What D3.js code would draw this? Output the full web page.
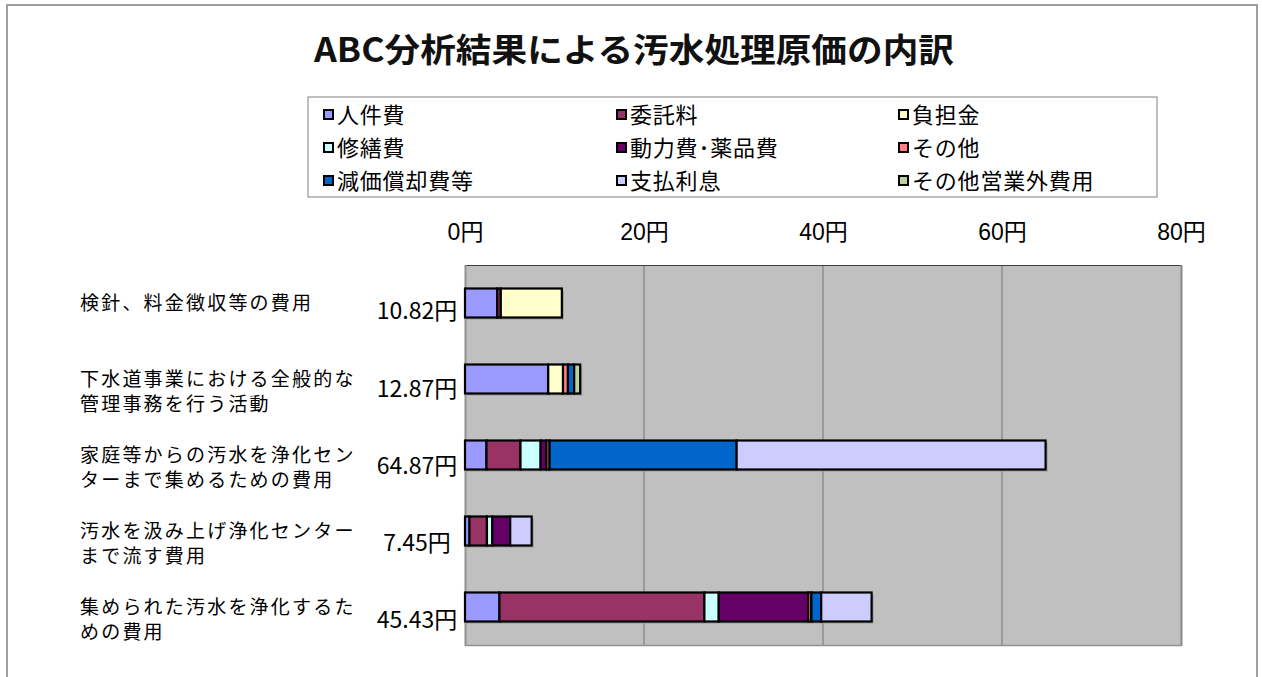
<!DOCTYPE html>
<html><head><meta charset="utf-8">
<script src="https://cdn.jsdelivr.net/npm/d3@7"></script>
<style>
html,body{margin:0;padding:0;background:#fff;}
svg{display:block;font-family:"Noto Sans CJK JP","Noto Sans",sans-serif;}
</style></head>
<body><svg id="c" width="1262" height="677"></svg>
<script>
const title = "ABC分析結果による汚水処理原価の内訳";
const categories = [
  ["検針、料金徴収等の費用"],
  ["下水道事業における全般的な","管理事務を行う活動"],
  ["家庭等からの汚水を浄化セン","ターまで集めるための費用"],
  ["汚水を汲み上げ浄化センター","まで流す費用"],
  ["集められた汚水を浄化するた","めの費用"]
];
const totals = ["10.82円","12.87円","64.87円","7.45円","45.43円"];
const seriesNames = ["人件費","委託料","負担金","修繕費","動力費･薬品費","その他","減価償却費等","支払利息","その他営業外費用"];
const seriesColors = ["#9999FF","#993366","#FFFFCC","#CCFFFF","#660066","#FF8080","#0066CC","#CCCCFF","#B8D49C"];
const v_jinken   = [3.6, 9.3, 2.4, 0.5, 3.85];
const v_itaku    = [0.4, 0,   3.8, 1.95, 22.9];
const v_futan    = [6.82,1.65,0,   0,   0];
const v_shuzen   = [0,   0,   2.25,0.6, 1.6];
const v_douryoku = [0,   0,   0.65,2.0, 10.0];
const v_sonota   = [0,   0.55,0.35,0,   0.35];
const v_genka    = [0,   0.7, 20.9,0,   1.1];
const v_shiharai = [0,   0,   34.52,2.4,5.63];
const v_eigyogai = [0,   0.67,0,   0,   0];
const seriesValues = [v_jinken,v_itaku,v_futan,v_shuzen,v_douryoku,v_sonota,v_genka,v_shiharai,v_eigyogai];
const xTicks = [0,20,40,60,80];

const svg = d3.select("#c");
// outer frame
svg.append("path").attr("d","M7,677V5H1257V677").attr("fill","none").attr("stroke","#808080").attr("stroke-width",1.5);

// title
svg.append("text").attr("x",634).attr("y",62).attr("text-anchor","middle")
  .attr("font-size",33).attr("font-weight","bold").attr("fill","#111")
  .attr("textLength",640).attr("lengthAdjust","spacingAndGlyphs").text(title);

// legend
svg.append("rect").attr("x",308).attr("y",97).attr("width",849).attr("height",100)
  .attr("fill","#fff").attr("stroke","#808080").attr("stroke-width",1);
const legCols=[323,616,898], legRows=[115,148,181];
seriesNames.forEach((n,i)=>{
  const cx=legCols[i%3], cy=legRows[Math.floor(i/3)];
  svg.append("rect").attr("x",cx+1).attr("y",cy-5).attr("width",9).attr("height",9)
    .attr("fill",seriesColors[i]).attr("stroke","#000").attr("stroke-width",2);
  svg.append("text").attr("x",cx+14).attr("y",cy).attr("dy","0.36em")
    .attr("font-size",22).attr("letter-spacing",0.8).attr("fill","#000").text(n);
});

// scales
const x = d3.scaleLinear().domain([0,80]).range([465,1181]);
const y = d3.scaleBand().domain(d3.range(categories.length)).range([265,645]);
const barH = 29;

// plot area
svg.append("rect").attr("x",465).attr("y",265).attr("width",716).attr("height",380).attr("fill","#C0C0C0");
svg.append("g").selectAll("line").data(xTicks.slice(1,-1)).join("line")
  .attr("x1",d=>x(d)).attr("x2",d=>x(d)).attr("y1",265).attr("y2",645)
  .attr("stroke","#808080").attr("stroke-width",1.2);
svg.append("line").attr("x1",465).attr("x2",1182).attr("y1",265.5).attr("y2",265.5).attr("stroke","#404040").attr("stroke-width",1);
svg.append("line").attr("x1",465.5).attr("x2",465.5).attr("y1",265).attr("y2",646).attr("stroke","#909090").attr("stroke-width",2);
svg.append("line").attr("x1",1181.5).attr("x2",1181.5).attr("y1",265).attr("y2",646).attr("stroke","#888888").attr("stroke-width",2);
svg.append("line").attr("x1",465).attr("x2",1182).attr("y1",645.5).attr("y2",645.5).attr("stroke","#909090").attr("stroke-width",1.5);

// top axis
const axis = d3.axisTop(x).tickValues(xTicks).tickSize(0).tickFormat(d=>d+"円");
const ag = svg.append("g").attr("transform","translate(0,243)").call(axis);
ag.select(".domain").remove();
ag.selectAll("text").attr("font-size",23).attr("fill","#000").attr("font-family","Arial,'Liberation Sans','Noto Sans CJK JP',sans-serif");

// stack
const rows = categories.map((c,i)=>{const o={i}; seriesNames.forEach((n,k)=>o[n]=seriesValues[k][i]); return o;});
const stack = d3.stack().keys(seriesNames)(rows);

// shadows
const totalsNum = rows.map(r=>d3.sum(seriesNames,n=>r[n]));
svg.append("g").selectAll("rect").data(totalsNum).join("rect")
  .attr("x",x(0)+2).attr("y",(d,i)=>y(i)+y.bandwidth()/2-barH/2+2)
  .attr("width",d=>x(d)-x(0)).attr("height",barH).attr("fill","#999");

stack.forEach((s,k)=>{
  svg.append("g").selectAll("rect").data(s.filter(d=>d[1]-d[0]>0)).join("rect")
    .attr("x",d=>x(d[0])).attr("width",d=>x(d[1])-x(d[0]))
    .attr("y",d=>y(d.data.i)+y.bandwidth()/2-barH/2).attr("height",barH)
    .attr("fill",seriesColors[k]).attr("stroke","#000").attr("stroke-width",2.2);
});

// category labels
categories.forEach((lines,i)=>{
  const cy = y(i)+y.bandwidth()/2;
  lines.forEach((t,j)=>{
    svg.append("text").attr("x",80).attr("y",cy+j*25).attr("dy","0.36em")
      .attr("font-size",19).attr("letter-spacing",2.2).attr("fill","#000").text(t);
  });
  svg.append("text").attr("x",417).attr("y",cy+8+i*1.3).attr("dy","0.36em")
    .attr("text-anchor","middle").attr("font-size",23).attr("fill","#000").text(totals[i]);
});
</script></body></html>
